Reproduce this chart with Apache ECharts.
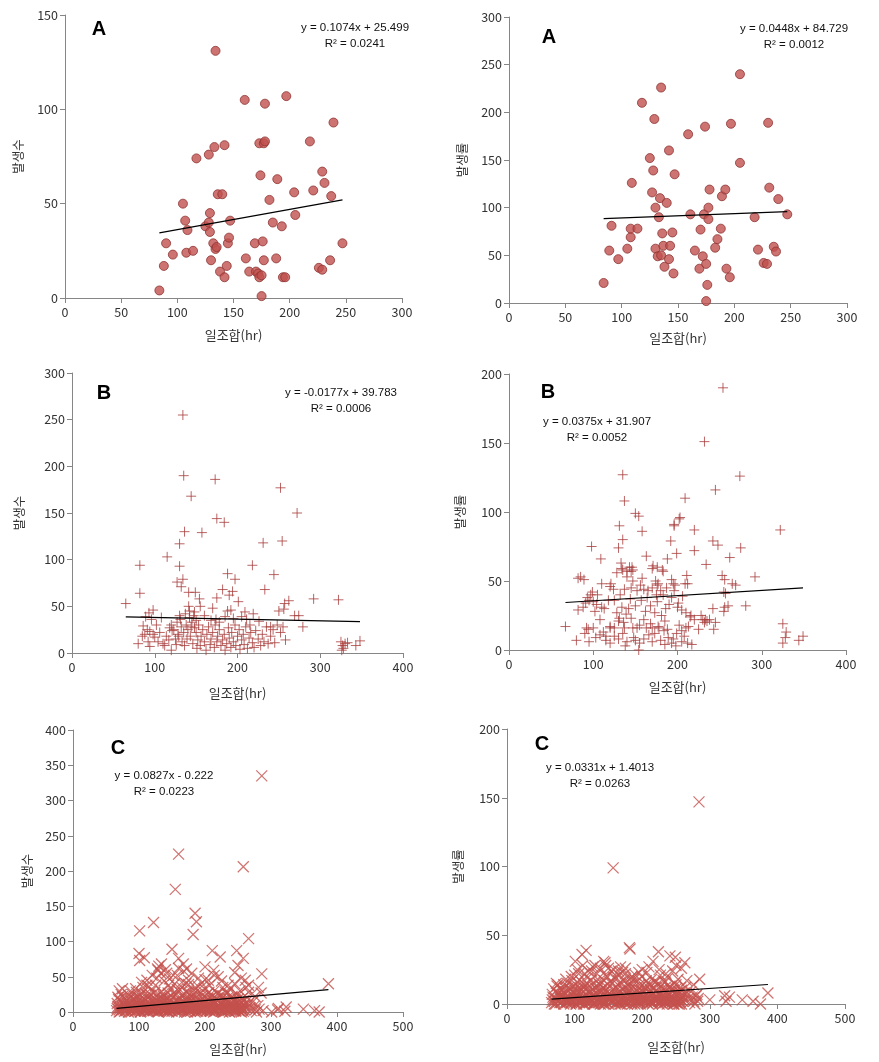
<!DOCTYPE html>
<html>
<head>
<meta charset="utf-8">
<script src="https://cdn.jsdelivr.net/npm/echarts@6/dist/echarts.min.js"></script>
<style>
html,body{margin:0;padding:0;background:#fff;}
#c{width:879px;height:1062px;}
</style>
</head>
<body>
<div id="c"></div>
<script>
// ---------------- DATA ----------------
const xAxisName = '일조합(hr)';
const yNames = ['발생수', '발생률', '발생수', '발생률', '발생수', '발생률'];
const panelLetters = ['A', 'A', 'B', 'B', 'C', 'C'];
const equations = [
  ['y = 0.1074x + 25.499', 'R² = 0.0241'],
  ['y = 0.0448x + 84.729', 'R² = 0.0012'],
  ['y = -0.0177x + 39.783', 'R² = 0.0006'],
  ['y = 0.0375x + 31.907', 'R² = 0.0052'],
  ['y = 0.0827x - 0.222', 'R² = 0.0223'],
  ['y = 0.0331x + 1.4013', 'R² = 0.0263']
];
const slopes = [0.1074, 0.0448, -0.0177, 0.0375, 0.0827, 0.0331];
const intercepts = [25.499, 84.729, 39.783, 31.907, -0.222, 1.4013];
const xMaxes = [300, 300, 400, 400, 500, 500];
const xSteps = [50, 50, 100, 100, 100, 100];
const yMaxes = [150, 300, 300, 200, 400, 200];
const ySteps = [50, 50, 50, 50, 50, 50];

const countA = [
[84,4],[88,17],[90,29],[96,23],[105,50],[107,41],[108,24],[109,36],[114,25],[117,74],
[125,38],[128,40],[128,76],[129,45],[129,35],[130,20],[132,29],[133,80],[134,131],[134,26],
[135,27],[136,55],[138,14],[140,55],[142,81],[142,11],[144,17],[145,29],[146,32],[147,41],
[160,105],[161,21],[164,14],[169,29],[170,14],[172,13],[173,11],[173,82],[174,65],[175,12],
[175,1],[176,30],[177,20],[177,82],[178,83],[178,103],[182,52],[185,40],[188,21],[189,63],
[193,38],[194,11],[196,11],[197,107],[204,56],[205,44],[218,83],[221,57],[226,16],[229,67],
[229,15],[231,61],[236,20],[237,54],[239,93],[247,29]
];
const rateA = [
[84,21],[89,55],[91,81],[97,46],[105,57],[108,69],[108,78],[109,126],[114,78],[118,210],
[125,152],[127,116],[128,139],[129,193],[130,100],[130,57],[132,49],[133,90],[134,110],[135,226],
[135,50],[136,73],[137,60],[138,38],[140,105],[142,160],[142,46],[143,60],[145,74],[146,31],
[147,135],[159,177],[161,93],[165,55],[169,36],[170,77],[172,49],[173,93],[174,185],[175,2],
[175,41],[176,19],[177,100],[177,88],[178,119],[183,58],[185,67],[188,78],[189,112],[192,119],
[193,36],[196,27],[197,188],[205,147],[205,240],[218,90],[221,56],[226,42],[229,41],[230,189],
[231,121],[235,59],[237,54],[239,109],[247,93]
];
const countB = [
[134,255],[135,190],[173,186],[144,168],[252,177],[272,150],[175,144],[184,140],[136,130],[157,129],
[130,117],[231,118],[254,120],[115,103],[82,94],[130,93],[218,94],[188,85],[244,84],[197,79],
[134,79],[127,76],[132,71],[182,68],[233,68],[194,66],[190,62],[82,64],[141,65],[149,65],
[175,59],[154,58],[201,55],[292,58],[322,57],[262,56],[257,53],[65,53],[141,50],[155,50],
[170,48],[192,46],[188,45],[250,45],[256,47],[98,46],[93,43],[89,39],[209,44],[219,42],
[269,40],[274,40],[108,38],[142,38],[174,36],[185,39],[205,39],[211,36],[279,28],[120,30],[86,29],
[91,25],[94,23],[88,20],[100,17],[80,10],[94,7],[110,10],[120,3],[118,27],[121,24],
[127,33],[131,36],[98,20],[104,12],[112,8],[125,15],[128,20],[133,12],[136,8],[138,30],
[140,25],[143,18],[145,33],[146,10],[148,27],[150,22],[151,5],[152,14],[153,30],[155,8],
[156,18],[158,25],[160,12],[162,3],[163,20],[165,28],[167,9],[168,15],[170,22],[172,6],
[173,30],[175,12],[176,18],[178,25],[180,8],[182,14],[184,20],[185,3],[187,10],[189,27],
[190,16],[192,6],[193,22],[195,12],[197,30],[198,8],[200,18],[202,25],[203,4],[205,14],
[207,20],[208,9],[210,28],[212,5],[214,16],[216,22],[218,11],[220,6],[222,24],[225,15],
[228,8],[230,20],[232,12],[235,28],[237,10],[240,18],[243,25],[245,11],[248,30],[252,22],
[255,28],[258,14],[142,45],[147,40],[150,35],[144,28],[139,15],[135,22],[132,28],[129,18],
[126,9],[123,25],[117,14],[114,18],[106,22],[102,30],[96,36],[92,12],[85,18],[130,40],
[137,42],[148,44],[160,40],[168,35],[178,33],[195,37],[215,30],[226,34],[240,28],
[325,12],[327,8],[328,5],[330,10],[326,3],[343,8],[348,13],[333,11]
];
const rateB = [
[254,190],[232,151],[135,127],[274,126],[245,116],[209,110],[137,108],[150,99],[154,97],[202,95],
[131,90],[196,90],[322,87],[220,87],[158,86],[192,79],[242,79],[135,80],[248,76],[98,75],
[130,74],[275,74],[220,72],[199,70],[163,68],[262,67],[109,66],[188,66],[234,62],[171,61],
[182,58],[146,60],[135,58],[145,57],[82,52],[89,51],[292,53],[253,54],[256,51],[110,48],
[121,48],[211,54],[212,48],[174,50],[177,48],[193,51],[195,48],[269,47],[255,42],[82,29],
[67,17],[325,19],[329,13],[328,9],[325,5],[349,10],[344,7],[80,7],[217,4],[154,0],
[134,59],[140,57],[143,60],[147,58],[170,59],[176,60],[183,57],[85,53],[120,46],[137,44],
[145,45],[152,43],[160,44],[165,43],[170,45],[176,47],[180,43],[93,38],[97,40],[100,35],
[104,33],[110,31],[118,36],[134,31],[144,37],[168,32],[176,35],[186,30],[108,22],[120,17],
[130,21],[136,20],[145,23],[155,18],[160,22],[168,19],[177,17],[185,21],[92,16],[100,16],
[120,16],[125,16],[137,16],[147,16],[152,16],[163,16],[170,16],[178,16],[188,15],[95,6],
[115,7],[120,5],[140,6],[150,7],[155,5],[170,6],[180,7],[193,5],[205,6],[108,11],
[115,10],[125,10],[135,12],[148,9],[203,96],[196,91],[197,47],[206,39],[209,48],[257,41],
[242,30],[256,31],[255,28],[281,32],[200,31],[205,29],[210,27],[215,24],[216,25],[220,22],
[225,15],[230,22],[232,20],[235,21],[238,22],[243,15],[245,20],[199,12],[202,18],[205,14],
[208,10],[210,16],[212,5],[198,3],[195,8],[213,17],[91,34],[95,36],[99,42],[102,28],
[113,30],[125,36],[128,27],[131,23],[139,26],[142,30],[150,32],[157,36],[162,28],[173,27],
[181,25],[190,33],[193,38],[187,45],[183,40],[175,40],[128,56],[133,63],[140,53],[156,47],
[164,38],[184,14],[189,9],[160,8],[166,11],[173,12],[185,4],[130,8],[138,3],[112,13],
[103,9],[90,12],[94,15],[88,31],[105,40],[124,44],[132,40],[147,50],[158,52],[196,43],
[201,34],[228,25],[233,22],[260,32],[265,48]
];
const countC = [
[286,335],[160,224],[258,206],[155,174],[185,140],[187,128],[122,127],[101,115],[182,110],[266,104],
[150,89],[248,87],[211,87],[100,83],[101,73],[108,77],[160,76],[223,78],[258,76],[134,68],
[128,61],[167,68],[172,61],[200,64],[213,59],[250,66],[286,54],[152,52],[142,55],[129,59],
[112,38],[175,39],[387,40],[261,45],[266,38],[281,35],[75,33],[68,21],
[66,2],[68,8],[70,0],[72,15],[74,4],[75,22],[77,10],[78,1],[80,6],[70,30],[76,12],[79,18],[67,5],
[81,3],[82,12],[84,0],[85,20],[86,7],[88,15],[89,2],[90,25],[91,9],[92,4],[93,18],[94,1],[95,11],
[96,28],[97,6],[98,14],[99,3],[100,21],[83,9],[87,30],
[101,8],[102,0],[103,16],[104,5],[105,12],[106,35],[107,2],[108,19],[109,7],[110,26],[111,4],
[112,14],[113,1],[114,10],[115,23],[116,6],[117,17],[118,3],[119,30],[120,9],[104,42],[112,45],
[121,13],[122,2],[123,20],[124,7],[125,38],[126,4],[127,16],[128,11],[129,0],[130,25],[131,8],
[132,18],[133,3],[134,29],[135,12],[136,5],[137,22],[138,1],[139,15],[140,9],[127,48],[133,55],
[138,44],[130,65],
[141,6],[142,19],[143,2],[144,27],[145,11],[146,4],[147,16],[148,33],[149,8],[150,1],[151,21],
[152,13],[153,5],[154,40],[155,10],[156,24],[157,3],[158,17],[159,7],[160,30],[146,47],[158,52],
[161,12],[162,2],[163,20],[164,8],[165,35],[166,4],[167,15],[168,26],[169,0],[170,11],[171,40],
[172,6],[173,18],[174,3],[175,28],[176,9],[177,14],[178,1],[179,22],[180,5],[168,58],[175,45],
[181,16],[182,8],[183,31],[184,3],[185,12],[186,24],[187,6],[188,19],[189,1],[190,36],[191,10],
[192,4],[193,15],[194,27],[195,7],[196,20],[197,2],[198,12],[199,33],[200,5],[190,48],
[201,14],[202,9],[203,25],[204,3],[205,18],[206,6],[207,38],[208,11],[209,1],[210,22],[211,8],
[212,16],[213,4],[214,30],[215,12],[216,2],[217,19],[218,7],[219,26],[220,10],[205,45],[214,52],
[221,3],[222,15],[223,6],[224,24],[225,1],[226,12],[227,35],[228,8],[229,18],[230,4],[231,28],
[232,10],[233,2],[234,20],[235,7],[236,14],[237,0],[238,32],[239,5],[240,11],
[241,22],[242,3],[243,16],[244,8],[245,40],[246,1],[247,12],[248,25],[249,6],[250,18],[251,2],
[252,10],[253,30],[254,4],[255,14],[256,7],[257,20],[258,1],[259,9],[260,3],
[263,5],[266,12],[270,2],[274,8],[278,0],[282,4],[266,28],[276,22],[262,35],
[301,0],[311,5],[321,1],[323,7],[349,4],[366,2],[373,0],[310,3],
[70,3],[85,5],[95,2],[105,4],[115,1],[125,6],[135,3],[145,0],[155,4],[165,2],[175,6],[185,0],
[195,3],[205,5],[215,1],[225,4],[235,2],[245,5],[255,0],[75,7],[90,8],[110,2],[120,5],[140,4],
[150,7],[160,1],[170,5],[180,3],[200,8],[210,4],[220,6],[230,1],[240,7],[250,3],[100,10],[130,2],
[190,6],
[67,12],[69,18],[71,6],[73,25],[76,3],[79,9],[82,16],[84,24],[86,11],[88,3],[91,19],[93,7],
[96,14],[98,22],[100,4],[102,13],[104,27],[106,9],[108,3],[110,17],[112,6],[114,20],[116,11],
[118,24],[120,2],[122,15],[124,28],[126,10],[128,5],[130,19],[132,13],[134,7],[136,25],[138,17],
[140,2],[142,10],[144,14],[146,21],[148,6],[150,12],[152,26],[154,3],[156,9],[158,32],[160,15],
[162,7],[164,23],[166,13],[168,4],[170,18],[172,28],[174,10],[176,2],[178,16],[180,21],[182,25],
[184,12],[186,6],[188,30],[190,14],[192,9],[194,3],[196,24],[198,17],[200,11],[202,2],[204,19],
[206,28],[208,15],[210,7],[212,23],[214,3],[216,13],[218,18],[220,26],[222,8],[224,12],[226,3],
[228,22],[230,15],[232,7],[234,27],[236,4],[238,12],[240,20],[242,9],[244,2],[246,17],[248,6],
[250,24],[252,13],[254,8],[256,3],[258,16],[260,10],[264,20],[268,6],[272,14],[276,3],[280,9],
[285,27],[288,2],[262,14],[95,33],[115,36],[145,38],[165,42],[185,35],[195,41],[225,44],[235,38],
[120,52],[140,60],[180,55],[220,50],[160,62],[200,46],[245,56],[255,48],
[72,1],[88,0],[97,2],[107,5],[117,3],[127,1],[137,4],[147,2],[157,0],[167,5],[177,3],[187,1],
[197,5],[207,2],[217,4],[227,0],[237,5],[247,2],[257,4],[80,2],[92,6],[103,1],[113,7],[123,3],
[133,6],[143,1],[153,7],[163,4],[173,0],[183,7],[193,1],[203,6],[213,0],[223,7],[233,3],[243,6],[253,1]
];
const rateC = [
[284,147],[157,99],[182,40],[181,41],[117,39],[111,36],[224,38],[143,31],[145,30],[241,35],
[249,34],[263,30],[258,26],[216,31],[101,31],[100,21],[285,18],[74,13],[386,8],[348,3],
[364,2],[375,0],[322,6],[329,5],[324,2],[300,3],[283,4],[281,7],
[66,1],[68,5],[70,0],[72,9],[74,3],[75,14],[77,6],[78,1],[80,4],[76,8],[79,11],[67,3],
[81,2],[82,7],[84,0],[85,12],[86,4],[88,9],[89,1],[90,15],[91,5],[92,2],[93,11],[94,0],
[95,7],[96,17],[97,3],[98,9],[99,1],[100,13],[83,6],[87,18],
[101,5],[102,0],[103,10],[104,3],[105,8],[106,22],[107,1],[108,12],[109,4],[110,16],[111,2],
[112,9],[113,0],[114,6],[115,14],[116,3],[117,11],[118,1],[119,19],[120,5],[104,25],[112,28],
[121,8],[122,1],[123,13],[124,4],[125,24],[126,2],[127,10],[128,7],[129,0],[130,15],[131,5],
[132,11],[133,2],[134,18],[135,7],[136,3],[137,14],[138,0],[139,9],[140,5],[127,27],[133,22],[138,26],
[141,3],[142,12],[143,1],[144,17],[145,7],[146,2],[147,10],[148,20],[149,5],[150,0],[151,13],
[152,8],[153,3],[154,24],[155,6],[156,15],[157,2],[158,11],[159,4],[160,19],[146,28],[158,25],
[161,7],[162,1],[163,12],[164,5],[165,21],[166,2],[167,9],[168,16],[169,0],[170,7],[171,23],
[172,3],[173,11],[174,1],[175,17],[176,5],[177,8],[178,0],[179,14],[180,3],[168,27],[175,22],
[181,10],[182,5],[183,19],[184,2],[185,7],[186,15],[187,4],[188,12],[189,0],[190,21],[191,6],
[192,2],[193,9],[194,17],[195,4],[196,12],[197,1],[198,7],[199,20],[200,3],
[201,9],[202,5],[203,15],[204,2],[205,11],[206,4],[207,23],[208,7],[209,0],[210,14],[211,5],
[212,10],[213,2],[214,18],[215,7],[216,1],[217,12],[218,4],[219,16],[220,6],
[221,2],[222,9],[223,4],[224,15],[225,0],[226,7],[227,21],[228,5],[229,11],[230,2],[231,17],
[232,6],[233,1],[234,12],[235,4],[236,9],[237,0],[238,19],[239,3],[240,7],
[241,13],[242,2],[243,10],[244,5],[245,24],[246,0],[247,8],[248,15],[249,3],[250,11],[251,1],
[252,6],[253,18],[254,2],[255,9],[256,4],[257,12],[258,0],[259,5],[260,2],
[263,3],[266,8],[270,1],[274,5],[278,0],[282,2],[266,17],[276,14],
[70,2],[85,3],[95,1],[105,2],[115,0],[125,3],[135,1],[145,0],[155,2],[165,1],[175,3],[185,0],
[195,2],[205,3],[215,0],[225,2],[235,1],[245,3],[255,0],[90,4],[110,1],[120,3],[140,2],[150,4],
[160,0],[170,3],[180,1],[200,4],[210,2],[220,3],[230,0],[240,4],[250,1],[100,5],[130,1],[190,3],
[67,7],[69,11],[71,4],[73,15],[76,2],[79,6],[82,10],[84,14],[86,7],[88,2],[91,12],[93,4],
[96,9],[98,13],[100,3],[102,8],[104,16],[106,5],[108,2],[110,10],[112,4],[114,12],[116,7],
[118,15],[120,1],[122,9],[124,17],[126,6],[128,3],[130,12],[132,8],[134,4],[136,15],[138,10],
[140,1],[142,6],[144,9],[146,13],[148,4],[150,7],[152,16],[154,2],[156,5],[158,19],[160,9],
[162,4],[164,14],[166,8],[168,2],[170,11],[172,17],[174,6],[176,1],[178,10],[180,13],[182,15],
[184,7],[186,4],[188,18],[190,8],[192,5],[194,2],[196,14],[198,10],[200,7],[202,1],[204,12],
[206,17],[208,9],[210,4],[212,14],[214,2],[216,8],[218,11],[220,16],[222,5],[224,7],[226,2],
[228,13],[230,9],[232,4],[234,16],[236,2],[238,7],[240,12],[242,5],[244,1],[246,10],[248,4],
[250,14],[252,8],[254,5],[256,2],[258,10],[260,6],[264,12],[268,4],[272,9],[276,2],[280,6],
[262,8],[95,20],[115,22],[145,21],[165,24],[185,20],[195,23],[225,25],[235,22],[130,28],[150,26],
[210,27],[120,24],[175,26],[200,25],[250,28],
[72,0],[88,1],[97,2],[107,3],[117,1],[127,0],[137,2],[147,1],[157,3],[167,0],[177,2],[187,3],
[197,0],[207,1],[217,3],[227,1],[237,2],[247,0],[257,3],[80,1],[92,3],[103,0],[113,4],[123,2],
[133,3],[143,0],[153,4],[163,2],[173,1],[183,4],[193,0],[203,3],[213,1],[223,4],[233,2],[243,3],[253,0]
];
const panelData = [countA, rateA, countB, rateB, countC, rateC];

// ---------------- LAYOUT / STYLE ----------------
const grids = [
  {left: 65, top: 15, width: 337, height: 283},
  {left: 509, top: 17, width: 338, height: 286},
  {left: 72, top: 373, width: 331, height: 280},
  {left: 509, top: 374, width: 337, height: 276},
  {left: 73, top: 730, width: 330, height: 282},
  {left: 507, top: 729, width: 338, height: 275}
];
const xNameGaps = [31, 29, 34, 31, 31, 37];
const yNameGaps = [40, 40, 46, 42, 39, 42];
const letterPos = [[99, 29], [549, 37], [104, 393], [548, 392], [118, 748], [542, 744]];
const eqPos = [[355, 28], [794, 29], [341, 393], [597, 422], [164, 776], [600, 768]];

const PLUS = 'path://M5,0L5,10M0,5L10,5';
const CROSS = 'path://M0,0L10,10M10,0L0,10';
const markerStyles = [
  {symbol: 'circle', symbolSize: 9, itemStyle: {color: '#C0504D', borderColor: '#8E3533', borderWidth: 1}},
  {symbol: 'circle', symbolSize: 9, itemStyle: {color: '#C0504D', borderColor: '#8E3533', borderWidth: 1}},
  {symbol: PLUS, symbolSize: 10, itemStyle: {color: 'rgba(0,0,0,0)', borderColor: '#A83F3D', borderWidth: 1}},
  {symbol: PLUS, symbolSize: 10, itemStyle: {color: 'rgba(0,0,0,0)', borderColor: '#A83F3D', borderWidth: 1}},
  {symbol: CROSS, symbolSize: 11, itemStyle: {color: 'rgba(0,0,0,0)', borderColor: '#C4514E', borderWidth: 1.25}},
  {symbol: CROSS, symbolSize: 11, itemStyle: {color: 'rgba(0,0,0,0)', borderColor: '#C4514E', borderWidth: 1.25}}
];

const FONT = '"Noto Sans CJK KR", "Noto Sans", sans-serif';
const axisLineStyle = {lineStyle: {color: '#868686', width: 1}};

const xAxes = [], yAxes = [], series = [], graphics = [];
for (let i = 0; i < 6; i++) {
  xAxes.push({
    gridIndex: i, type: 'value', min: 0, max: xMaxes[i], interval: xSteps[i],
    name: xAxisName, nameLocation: 'middle', nameGap: xNameGaps[i],
    nameTextStyle: {fontFamily: FONT, fontSize: 13, color: '#333'},
    axisLine: axisLineStyle, axisTick: {show: true, length: 5, lineStyle: {color: '#868686'}},
    axisLabel: {fontFamily: FONT, fontSize: 12.5, color: '#333', margin: 8},
    splitLine: {show: false}
  });
  yAxes.push({
    gridIndex: i, type: 'value', min: 0, max: yMaxes[i], interval: ySteps[i],
    name: yNames[i], nameLocation: 'middle', nameGap: yNameGaps[i],
    nameTextStyle: {fontFamily: FONT, fontSize: 12.5, color: '#333'},
    axisLine: {show: true, lineStyle: {color: '#868686', width: 1}},
    axisTick: {show: true, length: 5, lineStyle: {color: '#868686'}},
    axisLabel: {fontFamily: FONT, fontSize: 12.5, color: '#333', margin: 7},
    splitLine: {show: false}
  });
  const d = panelData[i];
  const ms = markerStyles[i];
  series.push({
    type: 'scatter', xAxisIndex: i, yAxisIndex: i, data: d,
    symbol: ms.symbol, symbolSize: ms.symbolSize, itemStyle: ms.itemStyle,
    emphasis: {disabled: true}, z: 2, large: false
  });
  const xs = d.map(p => p[0]);
  const x0 = Math.min(...xs), x1 = Math.max(...xs);
  series.push({
    type: 'line', xAxisIndex: i, yAxisIndex: i,
    data: [[x0, slopes[i] * x0 + intercepts[i]], [x1, slopes[i] * x1 + intercepts[i]]],
    symbol: 'none', lineStyle: {color: '#000', width: 1.2}, z: 3,
    emphasis: {disabled: true}
  });
  graphics.push({
    type: 'text', x: letterPos[i][0], y: letterPos[i][1],
    style: {text: panelLetters[i], font: 'bold 20px "Liberation Sans", Arial, sans-serif',
            fill: '#000', align: 'center', verticalAlign: 'middle'}, z: 10
  });
  graphics.push({
    type: 'text', x: eqPos[i][0], y: eqPos[i][1],
    style: {text: equations[i][0], font: '11.5px "Liberation Sans", Arial, sans-serif',
            fill: '#111', align: 'center', verticalAlign: 'middle'}, z: 10
  });
  graphics.push({
    type: 'text', x: eqPos[i][0], y: eqPos[i][1] + 16,
    style: {text: equations[i][1], font: '11.5px "Liberation Sans", Arial, sans-serif',
            fill: '#111', align: 'center', verticalAlign: 'middle'}, z: 10
  });
}

const chart = echarts.init(document.getElementById('c'), null, {renderer: 'canvas'});
chart.setOption({
  animation: false,
  backgroundColor: '#fff',
  grid: grids.map(g => Object.assign({containLabel: false}, g)),
  xAxis: xAxes,
  yAxis: yAxes,
  series: series,
  graphic: graphics
});
</script>
</body>
</html>
